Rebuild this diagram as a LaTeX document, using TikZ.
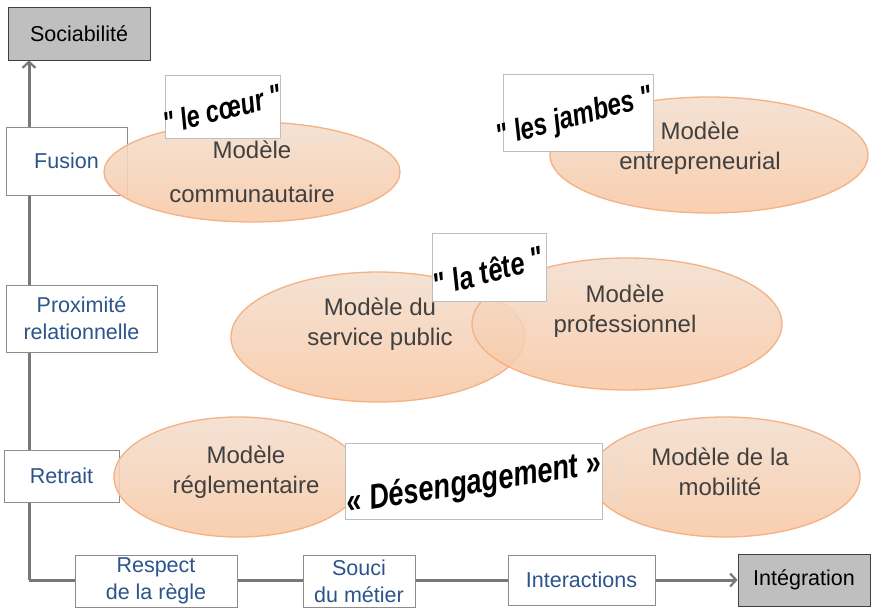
\documentclass[tikz,border=0pt]{standalone}
\usepackage{fontspec}
\setmainfont{Liberation Sans}[Ligatures=TeXOff]
\usetikzlibrary{shapes.geometric,arrows.meta,calc}
\definecolor{axisgray}{RGB}{120,120,120}
\definecolor{boxblue}{RGB}{44,84,140}
\definecolor{modtext}{RGB}{64,64,64}
\definecolor{elltop}{RGB}{243,222,206}
\definecolor{ellbot}{RGB}{248,200,164}
\definecolor{ellline}{RGB}{244,177,131}
\definecolor{endfill}{RGB}{191,191,191}
\definecolor{lblline}{RGB}{190,190,190}
\begin{document}
\begin{tikzpicture}[x=1pt,y=-1pt,
  axisline/.style={draw=axisgray,line width=3pt,-{Straight Barb[length=6pt,width=13pt,line width=2.2pt]}},
  axbox/.style={draw=black!45,fill=white,line width=0.8pt,font=\fontsize{21.5}{27}\selectfont,text=boxblue,align=center,inner sep=0pt},
  endbox/.style={draw=black!75,fill=endfill,line width=0.8pt,font=\fontsize{21.5}{27}\selectfont,text=black,inner sep=0pt},
  model/.style={ellipse,draw=ellline,line width=1.3pt,top color=elltop,bottom color=ellbot,fill opacity=0.88,inner sep=0pt},
  mtext/.style={font=\fontsize{24}{30}\selectfont,text=modtext,align=center,inner sep=0pt},
  lblbox/.style={draw=lblline,fill=white,line width=0.8pt,inner sep=0pt},
  lbltext/.style={font=\fontsize{31}{31}\selectfont\bfseries\itshape,text=black,inner sep=0pt},
  faint/.style={draw=black!13,line width=0.8pt}
]
\useasboundingbox (0,0) rectangle (874,610);

% end boxes and axes
\node[endbox,minimum width=142,minimum height=53] (soc) at (79,33.5) {Sociabilité};
\node[endbox,minimum width=132,minimum height=52] (integ) at (804,580) {Intégration};
\coordinate (origin) at (29,580);
\draw[axisline] (origin) -- (origin |- soc.south);
\draw[axisline] (origin) -- (integ.west);

% boxes on the axes
\node[axbox,minimum width=121,minimum height=68] (fusion) at (66.5,161) {Fusion};
\node[axbox,minimum width=151,minimum height=67] (prox) at (81.5,318.5) {Proximité\\relationnelle};
\node[axbox,minimum width=115,minimum height=52] (retrait) at (61.5,476) {Retrait};
\node[axbox,minimum width=162,minimum height=52] (respect) at (156,581) {Respect\\de la règle};
\node[axbox,minimum width=112,minimum height=52] (souci) at (359,581) {Souci\\du métier};
\node[axbox,minimum width=147,minimum height=50] (inter) at (581.5,580) {Interactions};

% models
\node[model,minimum width=296,minimum height=100] (comm) at (252,172) {};
\node[model,minimum width=318,minimum height=116] (entre) at (709,155) {};
\node[model,minimum width=294,minimum height=130] (pub) at (378,337) {};
\node[model,minimum width=310,minimum height=132] (prof) at (627,324) {};
\node[model,minimum width=248,minimum height=120] (regl) at (238,477) {};
\node[model,minimum width=270,minimum height=120] (mob) at (725,477) {};

\node[mtext,font=\fontsize{24}{44}\selectfont] (commT) at (252,172) {Modèle\\communautaire};
\node[mtext] (entreT) at (700,148) {Modèle\\entrepreneurial};
\node[mtext] (pubT) at (380,324) {Modèle du\\service public};
\node[mtext] (profT) at (625,311) {Modèle\\professionnel};
\node[mtext] (reglT) at (246,472) {Modèle\\réglementaire};
\node[mtext] (mobT) at (720,472) {Modèle de la\\mobilité};

% faint block arrow behind "Désengagement"
\coordinate (fa) at (560,459);
\draw[faint] (fa) -- (614,459) -- (614,452) -- (623,480) -- (614,504) -- (614,494) -- (560,494);

% quoted labels
\node[lblbox,minimum width=115,minimum height=63] (coeurB) at (222.5,106.5) {};
\node[lbltext,rotate=14,xscale=0.76] (coeurT) at (222,109) {" le cœur "};

\node[lblbox,minimum width=150,minimum height=77] (jambB) at (578,112.5) {};
\node[lbltext,rotate=15,xscale=0.78] (jambT) at (575,118) {" les jambes "};

\node[lblbox,minimum width=114,minimum height=68] (teteB) at (489,267) {};
\node[lbltext,rotate=15,xscale=0.8,font=\fontsize{32}{32}\selectfont\bfseries\itshape] (teteT) at (488,271) {" la tête "};

\node[lblbox,minimum width=257,minimum height=76] (desB) at (473.5,481) {};
\node[lbltext,rotate=9,xscale=0.78,font=\fontsize{35}{35}\selectfont\bfseries\itshape] (desT) at (474,484) {« Désengagement »};
\end{tikzpicture}
\end{document}
